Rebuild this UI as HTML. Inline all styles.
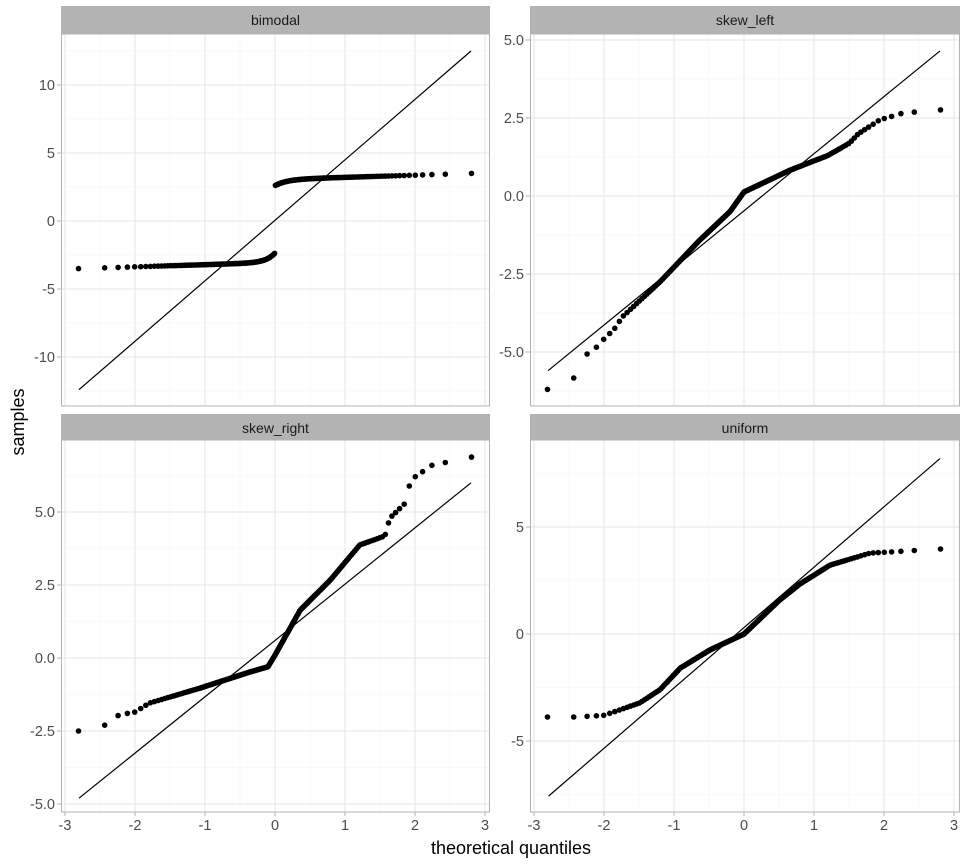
<!DOCTYPE html>
<html><head><meta charset="utf-8"><style>
html,body{margin:0;padding:0;background:#fff;}
svg{display:block;font-family:"Liberation Sans",sans-serif;}
</style></head><body>
<svg id="s" width="968" height="864" xmlns="http://www.w3.org/2000/svg"></svg>
<script>
function qnorm(p){
 var a=[-39.69683028665376,220.9460984245205,-275.9285104469687,138.3577518672690,-30.66479806614716,2.506628277459239],
 b=[-54.47609879822406,161.5858368580409,-155.6989798598866,66.80131188771972,-13.28068155288572],
 c=[-0.007784894002430293,-0.3223964580411365,-2.400758277161838,-2.549732539343734,4.374664141464968,2.938163982698783],
 d=[0.007784695709041462,0.3224671290700398,2.445134137142996,3.754408661907416];
 var q,r;
 if(p<0.02425){q=Math.sqrt(-2*Math.log(p));return (((((c[0]*q+c[1])*q+c[2])*q+c[3])*q+c[4])*q+c[5])/((((d[0]*q+d[1])*q+d[2])*q+d[3])*q+1);}
 if(p>1-0.02425){q=Math.sqrt(-2*Math.log(1-p));return -(((((c[0]*q+c[1])*q+c[2])*q+c[3])*q+c[4])*q+c[5])/((((d[0]*q+d[1])*q+d[2])*q+d[3])*q+1);}
 q=p-0.5;r=q*q;return (((((a[0]*r+a[1])*r+a[2])*r+a[3])*r+a[4])*r+a[5])*q/(((((b[0]*r+b[1])*r+b[2])*r+b[3])*r+b[4])*r+1);
}
function interp(an,q){
 if(q<=an[0][0])return an[0][1];
 for(var i=1;i<an.length;i++){if(q<=an[i][0]){var t=(q-an[i-1][0])/(an[i][0]-an[i-1][0]);return an[i-1][1]+t*(an[i][1]-an[i-1][1]);}}
 return an[an.length-1][1];
}
var panels=[
 {name:"bimodal",x1:61,x2:490,sy:6,y1:34,y2:406,x0:275,y0:221,k:13.6,ticks:[10,5,0,-5,-10],lab:function(v){return ""+v;},minor:2.5,
  f:function(q){return q>=0?3.05+0.16*q-0.45*Math.exp(-q*6):-(3.05+0.16*(-q)-0.7*Math.exp(q*8));},line:[-2.8,-12.4,2.8,12.5],showX:false},
 {name:"skew_left",x1:530,x2:960,sy:6,y1:34,y2:406,x0:744,y0:196,k:31.2,ticks:[5,2.5,0,-2.5,-5],lab:function(v){return v.toFixed(1);},minor:1.25,
  an:[[-2.8,-6.2],[-2.4,-5.8],[-2.2,-4.87],[-2.09,-4.84],[-1.99,-4.55],[-1.86,-4.29],[-1.74,-3.88],[-1.2,-2.75],[-0.63,-1.41],[-0.2,-0.5],[0,0.13],[0.66,0.83],[1.2,1.3],[1.51,1.7],[1.63,1.99],[1.94,2.44],[2.27,2.66],[2.8,2.76]],
  line:[-2.8,-5.6,2.8,4.65],showX:false},
 {name:"skew_right",x1:61,x2:490,sy:414,y1:440,y2:812,x0:275,y0:658,k:29.2,ticks:[5,2.5,0,-2.5,-5],lab:function(v){return v.toFixed(1);},minor:1.25,
  an:[[-2.79,-2.5],[-2.41,-2.29],[-2.23,-1.95],[-2,-1.85],[-1.79,-1.54],[-1.07,-1.03],[-0.36,-0.48],[-0.1,-0.3],[0,0.1],[0.36,1.64],[0.79,2.67],[1.21,3.87],[1.57,4.18],[1.64,4.79],[1.86,5.3],[1.94,6.1],[2.24,6.6],[2.81,6.88]],
  line:[-2.8,-4.8,2.8,6.0],showX:true},
 {name:"uniform",x1:530,x2:960,sy:414,y1:440,y2:812,x0:744,y0:634,k:21.4,ticks:[5,0,-5],lab:function(v){return ""+v;},minor:2.5,
  an:[[-2.8,-3.88],[-2.41,-3.88],[-2,-3.8],[-1.49,-3.22],[-1.2,-2.6],[-0.91,-1.59],[-0.49,-0.75],[0,0],[0.51,1.59],[0.8,2.34],[1.23,3.22],[1.8,3.78],[2.8,3.97]],
  line:[-2.79,-7.57,2.8,8.2],showX:true}
];
var h="",n=200,qs=[];
for(var i=1;i<=n;i++)qs.push(qnorm((i-0.5)/n));
panels.forEach(function(P){
 var X=function(q){return P.x0+70*q;},Y=function(v){return P.y0-P.k*v;};
 h+='<rect x="'+P.x1+'" y="'+P.sy+'" width="'+(P.x2-P.x1)+'" height="'+(P.y1-P.sy)+'" fill="#b3b3b3"/>';
 h+='<text x="'+((P.x1+P.x2)/2)+'" y="'+(P.sy+19)+'" font-size="14" text-anchor="middle" fill="#1a1a1a">'+P.name+'</text>';
 for(var v=-3.5;v<=3.5;v+=1){var x=X(v);if(x>P.x1&&x<P.x2)h+='<line x1="'+x+'" x2="'+x+'" y1="'+P.y1+'" y2="'+P.y2+'" stroke="#f3f3f3" stroke-width="0.6"/>';}
 for(var v=-20*P.minor;v<=20*P.minor;v+=2*P.minor){var y=Y(v+P.minor);if(y>P.y1&&y<P.y2)h+='<line x1="'+P.x1+'" x2="'+P.x2+'" y1="'+y+'" y2="'+y+'" stroke="#f3f3f3" stroke-width="0.6"/>';}
 for(var v=-3;v<=3;v++){var x=X(v);h+='<line x1="'+x+'" x2="'+x+'" y1="'+P.y1+'" y2="'+P.y2+'" stroke="#e6e6e6" stroke-width="1"/>';}
 P.ticks.forEach(function(t){var y=Y(t);h+='<line x1="'+P.x1+'" x2="'+P.x2+'" y1="'+y+'" y2="'+y+'" stroke="#e6e6e6" stroke-width="1"/>';
  h+='<line x1="'+(P.x1-4)+'" x2="'+P.x1+'" y1="'+y+'" y2="'+y+'" stroke="#b3b3b3"/>';
  h+='<text x="'+(P.x1-6)+'" y="'+(y+5)+'" font-size="14.5" text-anchor="end" fill="#4d4d4d">'+P.lab(t)+'</text>';});
 if(P.showX){for(var v=-3;v<=3;v++){var x=X(v);h+='<line x1="'+x+'" x2="'+x+'" y1="'+P.y2+'" y2="'+(P.y2+4)+'" stroke="#b3b3b3"/>';
  h+='<text x="'+x+'" y="'+(P.y2+18)+'" font-size="14.5" text-anchor="middle" fill="#4d4d4d">'+v+'</text>';}}
 h+='<line x1="'+X(P.line[0])+'" y1="'+Y(P.line[1])+'" x2="'+X(P.line[2])+'" y2="'+Y(P.line[3])+'" stroke="#000" stroke-width="1.2"/>';
 qs.forEach(function(q){var v=P.f?P.f(q):interp(P.an,q);h+='<circle cx="'+X(q).toFixed(1)+'" cy="'+Y(v).toFixed(1)+'" r="2.8" fill="#000"/>';});
 h+='<rect x="'+(P.x1+0.5)+'" y="'+(P.y1)+'" width="'+(P.x2-P.x1-1)+'" height="'+(P.y2-P.y1)+'" fill="none" stroke="#b3b3b3" stroke-width="1"/>';
});
h+='<text x="511" y="854" font-size="18" text-anchor="middle" fill="#000">theoretical quantiles</text>';
h+='<text transform="translate(24,422) rotate(-90)" font-size="18" text-anchor="middle" fill="#000">samples</text>';
document.getElementById("s").innerHTML=h;
</script>
</body></html>
